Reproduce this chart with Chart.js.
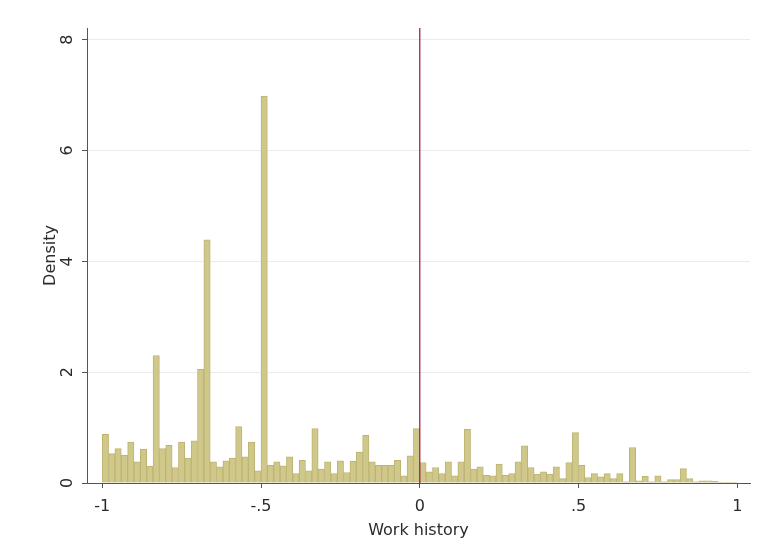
<!DOCTYPE html>
<html>
<head>
<meta charset="utf-8">
<script src="https://cdn.jsdelivr.net/npm/chart.js@4/dist/chart.umd.min.js"></script>
<style>
  html, body { margin: 0; padding: 0; background: #fff; }
  #wrap { width: 757px; height: 553px; }
</style>
</head>
<body>
<div id="wrap"><canvas id="histChart" width="757" height="553"></canvas></div>
<script>
// bin centres of the histogram (bin width 0.02)
const binCenters = [
  -0.99, -0.97, -0.95, -0.93, -0.91, -0.89, -0.87, -0.85, -0.83, -0.81,
  -0.79, -0.77, -0.75, -0.73, -0.71, -0.69, -0.67, -0.65, -0.63, -0.61,
  -0.59, -0.57, -0.55, -0.53, -0.51, -0.49, -0.47, -0.45, -0.43, -0.41,
  -0.39, -0.37, -0.35, -0.33, -0.31, -0.29, -0.27, -0.25, -0.23, -0.21,
  -0.19, -0.17, -0.15, -0.13, -0.11, -0.09, -0.07, -0.05, -0.03, -0.01,
   0.01,  0.03,  0.05,  0.07,  0.09,  0.11,  0.13,  0.15,  0.17,  0.19,
   0.21,  0.23,  0.25,  0.27,  0.29,  0.31,  0.33,  0.35,  0.37,  0.39,
   0.41,  0.43,  0.45,  0.47,  0.49,  0.51,  0.53,  0.55,  0.57,  0.59,
   0.61,  0.63,  0.65,  0.67,  0.69,  0.71,  0.73,  0.75,  0.77,  0.79,
   0.81,  0.83,  0.85,  0.87,  0.89,  0.91,  0.93,  0.95,  0.97,  0.99
];

// density per bin
const densities = [
  0.88, 0.53, 0.62, 0.50, 0.74, 0.38, 0.61, 0.30, 2.30, 0.62,
  0.68, 0.28, 0.74, 0.45, 0.76, 2.05, 4.39, 0.38, 0.29, 0.40,
  0.45, 1.02, 0.47, 0.74, 0.22, 6.98, 0.32, 0.38, 0.31, 0.47,
  0.17, 0.41, 0.22, 0.98, 0.25, 0.38, 0.17, 0.40, 0.19, 0.39,
  0.56, 0.86, 0.38, 0.32, 0.32, 0.32, 0.41, 0.13, 0.49, 0.98,
  0.37, 0.20, 0.28, 0.17, 0.38, 0.13, 0.38, 0.97, 0.25, 0.29,
  0.14, 0.13, 0.34, 0.14, 0.17, 0.38, 0.67, 0.28, 0.16, 0.20,
  0.16, 0.29, 0.08, 0.37, 0.91, 0.32, 0.10, 0.17, 0.11, 0.17,
  0.08, 0.17, 0.02, 0.64, 0.04, 0.12, 0.02, 0.13, 0.02, 0.06,
  0.06, 0.26, 0.08, 0.02, 0.04, 0.04, 0.03, 0.01, 0.01, 0.01
];

const xTickValues = [-1, -0.5, 0, 0.5, 1];
const xTickLabels = ['-1', '-.5', '0', '.5', '1'];
const yTickValues = [0, 2, 4, 6, 8];
const yTickLabels = ['0', '2', '4', '6', '8'];

const xMin = -1.048, xMax = 1.04;
const yMin = 0, yMax = 8.21;
const refLineX = 0;

const textColor = '#2b2b2b';
const fontFamily = '"DejaVu Sans", "Liberation Sans", sans-serif';

const barData = binCenters.map(function(c, i) {
    return { x: c, y: densities[i] };
});

new Chart(document.getElementById('histChart').getContext('2d'), {
    type: 'bar',
    data: {
        datasets: [{
            type: 'line',
            data: [{ x: refLineX, y: yMin }, { x: refLineX, y: yMax }],
            borderColor: '#a3234f',
            borderWidth: 1.3,
            pointRadius: 0,
            order: 0
        }, {
            type: 'bar',
            data: barData,
            backgroundColor: '#d0c88a',
            borderColor: '#bdb472',
            borderWidth: 1,
            barPercentage: 1,
            categoryPercentage: 1,
            order: 1
        }]
    },
    options: {
        responsive: false,
        animation: false,
        layout: { padding: { top: 28, right: 7, left: 0, bottom: 0 } },
        plugins: {
            legend: { display: false },
            tooltip: { enabled: false }
        },
        scales: {
            x: {
                type: 'linear',
                min: xMin,
                max: xMax,
                offset: false,
                afterFit: function(scale) { scale.height = 70; },
                afterBuildTicks: function(scale) {
                    scale.ticks = xTickValues.map(function(v) { return { value: v }; });
                },
                grid: {
                    offset: false,
                    drawOnChartArea: false,
                    tickLength: 5,
                    tickColor: '#555555'
                },
                border: { color: '#555555', width: 1 },
                ticks: {
                    padding: 9,
                    color: textColor,
                    font: { family: fontFamily, size: 16 },
                    callback: function(value, index) { return xTickLabels[index]; }
                },
                title: {
                    display: true,
                    text: 'Work history',
                    color: textColor,
                    font: { family: fontFamily, size: 16 },
                    padding: { top: 0, bottom: 13 }
                }
            },
            y: {
                min: yMin,
                max: yMax,
                afterFit: function(scale) { scale.width = 87; },
                afterBuildTicks: function(scale) {
                    scale.ticks = yTickValues.map(function(v) { return { value: v }; });
                },
                grid: {
                    color: '#ebebeb',
                    tickLength: 5,
                    tickColor: '#555555'
                },
                border: { color: '#555555', width: 1 },
                ticks: {
                    padding: 9,
                    minRotation: 90,
                    maxRotation: 90,
                    crossAlign: 'center',
                    color: textColor,
                    font: { family: fontFamily, size: 16 },
                    callback: function(value, index) { return yTickLabels[index]; }
                },
                title: {
                    display: true,
                    text: 'Density',
                    color: textColor,
                    font: { family: fontFamily, size: 16 },
                    padding: { top: 41, bottom: 0 }
                }
            }
        }
    }
});
</script>
</body>
</html>
